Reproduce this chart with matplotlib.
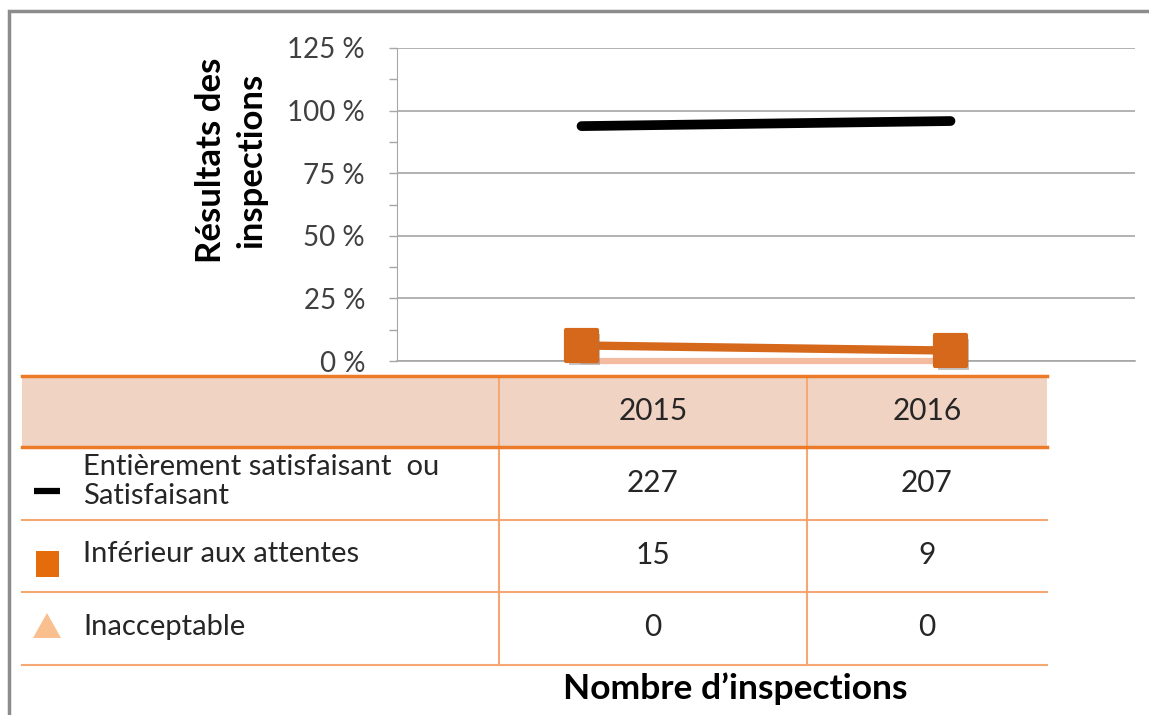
import matplotlib
matplotlib.use("Agg")
import matplotlib.pyplot as plt
import matplotlib.patheffects as pe
from matplotlib.markers import MarkerStyle
from matplotlib.patches import Rectangle, Polygon
import numpy as np

plt.rcParams['font.family'] = ['Lato', 'DejaVu Sans']

# ---------------- data ----------------
years = ['2015', '2016']
series_labels = ['Entièrement satisfaisant  ou\nSatisfaisant',
                 'Inférieur aux attentes',
                 'Inacceptable']
satisfaisant = [227, 207]
inferieur = [15, 9]
inacceptable = [0, 0]
y_ticks = [0, 25, 50, 75, 100, 125]
y_tick_labels = ['0 %', '25 %', '50 %', '75 %', '100 %', '125 %']
y_title = 'Résultats des\ninspections'
x_title = 'Nombre d\u2019inspections'

counts = np.array([satisfaisant, inferieur, inacceptable], dtype=float)
totals = counts.sum(axis=0)
pct = counts / totals * 100

# ---------------- styles ----------------
W, H = 1149, 715
BLACK = '#000000'
ORANGE = '#D5681A'
PEACH = '#F3BBA0'
TRI = '#F9BF8F'
TBL_LINE = '#EC7A28'
TBL_THIN = '#F5A874'
HDR_FILL = '#F1D3C4'
TXT = '#262626'
GRID = '#A6A6A6'

fig = plt.figure(figsize=(W / 100, H / 100), dpi=100)

# overlay in pixel coordinates
ov = fig.add_axes([0, 0, 1, 1])
ov.set_xlim(0, W)
ov.set_ylim(H, 0)
ov.axis('off')

def px(x0, y0, x1, y1):
    return [x0 / W, 1 - y1 / H, (x1 - x0) / W, (y1 - y0) / H]

ax = fig.add_axes(px(397, 48, 1135, 361))
x = np.arange(len(years))
ax.set_xlim(-0.5, len(years) - 0.5)
ax.set_ylim(0, 125)
ax.set_yticks(y_ticks)
ax.set_yticklabels(y_tick_labels)
ax.set_yticks(np.arange(12.5, 125, 25), minor=True)
ax.tick_params(axis='y', which='both', length=6, width=1, color=GRID,
               labelsize=20, labelcolor='#404040', pad=17)
ax.tick_params(axis='x', which='both', length=0, labelbottom=False)
ax.grid(axis='y', which='major', color=GRID, lw=1.2)
ax.set_axisbelow(True)
for s in ['top', 'right']:
    ax.spines[s].set_visible(False)
ax.spines['left'].set_color(GRID)
ax.spines['bottom'].set_color(GRID)
ax.spines['bottom'].set_linewidth(1.2)
ax.patch.set_alpha(0)

# lines
ax.plot(x, pct[0], color=BLACK, lw=7, solid_capstyle='round', zorder=3)
ax.plot(x, pct[2], color=PEACH, lw=4.5, solid_capstyle='round', zorder=3, clip_on=False)
ax.plot(x, pct[1], color=ORANGE, lw=6, solid_capstyle='butt', zorder=4, clip_on=False)
ax.plot(x, pct[1], ls='none', marker=MarkerStyle('s', joinstyle='round'), ms=22.5,
        mfc=ORANGE, mec=ORANGE, mew=3, zorder=5, clip_on=False,
        path_effects=[pe.SimplePatchShadow(offset=(2, -3), shadow_rgbFace='#7f7f7f', alpha=0.45),
                      pe.Normal()])

# y title
ov.text(231, 160, y_title, rotation=90, ha='center', va='center', fontsize=25,
        fontweight='bold', color='#000000', linespacing=1.3)

# border
ov.plot([9, 9, W + 5], [H + 5, 11, 11], color='#8C8C8C', lw=2.5, solid_joinstyle='miter')

# table
tx0, tx1 = 22, 1047
col_edges = [499, 807, 1047]
row_edges = [376, 447, 520, 592, 665]
ov.add_patch(Rectangle((tx0, row_edges[0]), tx1 - tx0, row_edges[1] - row_edges[0],
                       facecolor=HDR_FILL, edgecolor='none', zorder=1))
ov.plot([tx0, tx1], [row_edges[0]] * 2, color=TBL_LINE, lw=2.5, zorder=3)
ov.plot([tx0, tx1], [row_edges[1]] * 2, color=TBL_LINE, lw=2.5, zorder=3)
for yy in row_edges[2:]:
    ov.plot([tx0, tx1], [yy] * 2, color=TBL_THIN, lw=1.5, zorder=2)
for xx in col_edges[:2]:
    ov.plot([xx, xx], [row_edges[0], row_edges[-1]], color=TBL_THIN, lw=1.5, zorder=2)

col_centers = [(col_edges[i] + col_edges[i + 1]) / 2 for i in range(len(years))]
row_centers = [(row_edges[i] + row_edges[i + 1]) / 2 for i in range(len(row_edges) - 1)]
for cx, yr in zip(col_centers, years):
    ov.text(cx, row_centers[0] - 1, yr, ha='center', va='center', fontsize=21.5, color=TXT)
for r, row in enumerate(counts):
    for cx, v in zip(col_centers, row):
        ov.text(cx, row_centers[r + 1] - 1, f'{int(v)}', ha='center', va='center',
                fontsize=21.5, color=TXT)
    ov.text(83, row_centers[r + 1] - 2, series_labels[r], ha='left', va='center',
            fontsize=21, color=TXT, linespacing=1.1)

# legend keys
ov.plot([34, 60], [491, 491], color=BLACK, lw=4.5, solid_capstyle='butt')
ov.add_patch(Rectangle((36, 551), 23, 26, facecolor='#E46C0A', edgecolor='none'))
ov.add_patch(Polygon([[33, 638], [61, 638], [47, 613]], closed=True, facecolor=TRI,
                     edgecolor='none'))

ov.text(735, 689, x_title, ha='center', va='center', fontsize=25.5, fontweight='bold',
        color='#000000')

fig.savefig('out.png', dpi=100)
